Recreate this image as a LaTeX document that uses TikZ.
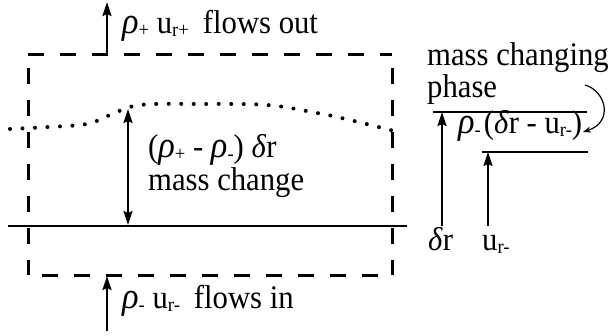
\documentclass[tikz,border=0pt]{standalone}
\usepackage{fontspec}
\setmainfont[FakeStretch=0.93]{Liberation Serif}
\usetikzlibrary{arrows.meta}
\newcommand{\lowsub}[1]{\raisebox{-0.12em}{\fontsize{20}{20}\selectfont #1}}
\newcommand{\grk}[1]{{\fontsize{37}{33}\selectfont\textit{#1}}}
\newcommand{\dlt}{\textit{δ}}
\begin{document}
\begin{tikzpicture}[x=1pt,y=-1pt, font=\fontsize{33}{33}\selectfont,
  lbl/.style={inner sep=0pt, anchor=base west},
  boxline/.style={line width=3pt, dash pattern=on 16pt off 16pt},
  arr/.style={line width=2.2pt, -{Stealth[length=14pt,width=9pt,inset=2pt]}},
  darr/.style={line width=2.2pt, {Stealth[length=14pt,width=9pt,inset=2pt]}-{Stealth[length=14pt,width=9pt,inset=2pt]}},
  thinline/.style={line width=1.3pt}]
\useasboundingbox (0,0) rectangle (609,335);
% dashed control volume
\coordinate (tl) at (28,54);
\coordinate (tr) at (392,54);
\coordinate (ltop) at (28,68);
\coordinate (rtop) at (392,68);
\coordinate (bl) at (28,275);
\coordinate (br) at (392,275);
\draw[boxline] (tl) -- (tr);
\draw[boxline] (ltop) -- (bl);
\draw[boxline] (rtop) -- (br);
\draw[boxline, dash phase=18pt] (bl) -- (br);
% ground line
\coordinate (g1) at (8,226);
\coordinate (g2) at (407,226);
\draw[line width=1.5pt] (g1) -- (g2);
% dotted interface
\draw[line width=4pt, line cap=round, dash pattern=on 0pt off 12.5pt]
  plot[smooth, tension=0.6] coordinates {(10,129) (48,127) (87,124) (110,115) (140,105) (200,104) (267,105) (317,113) (350,120) (398,132)};
% flux arrows
\coordinate (tas) at (107,54);
\coordinate (tae) at (107,2);
\draw[arr] (tas) -- (tae);
\coordinate (bas) at (107,331);
\coordinate (bae) at (107,276);
\draw[arr] (bas) -- (bae);
% mass change double arrow
\coordinate (da1) at (128,225);
\coordinate (da2) at (128,109);
\draw[darr] (da1) -- (da2);
% texts
\node[lbl] (out) at (122,33) {\grk{ρ}\lowsub{+} u\lowsub{r+}\hspace{14pt}flows out};
\node[lbl] (in) at (122,308) {\grk{ρ}\lowsub{-} u\lowsub{r-}\hspace{14pt}flows in};
\node[lbl] (dm) at (148,157) {(\grk{ρ}\lowsub{+} - \grk{ρ}\lowsub{-}) \dlt r};
\node[lbl] (mc) at (148,190) {mass change};
\node[lbl] (mcp) at (427,65) {mass changing};
\node[lbl] (ph) at (427,97) {phase};
\node[lbl] (rt) at (458,133) {\grk{ρ}\lowsub{-}\hspace{3pt}(\dlt r - u\lowsub{r-})};
\node[lbl] (dr) at (428,250) {\dlt r};
\node[lbl] (ur) at (482,250) {u\lowsub{r-}};
% right-hand schematic
\coordinate (h1a) at (433,112);
\coordinate (h1b) at (587,112);
\coordinate (h2a) at (482,152);
\coordinate (h2b) at (588,152);
\draw[thinline] (h1a) -- (h1b);
\draw[thinline] (h2a) -- (h2b);
\coordinate (dra) at (442,226);
\coordinate (drb) at (442,112);
\coordinate (ura) at (488,226);
\coordinate (urb) at (488,152);
\draw[arr] (dra) -- (drb);
\draw[arr] (ura) -- (urb);
% curved pointer
\coordinate (ca) at (585,85);
\coordinate (cb) at (583,132);
\draw[line width=1.2pt, -{Stealth[length=8pt,width=6pt]}] (ca) .. controls (606,91) and (614,122) .. (cb);
\end{tikzpicture}
\end{document}
